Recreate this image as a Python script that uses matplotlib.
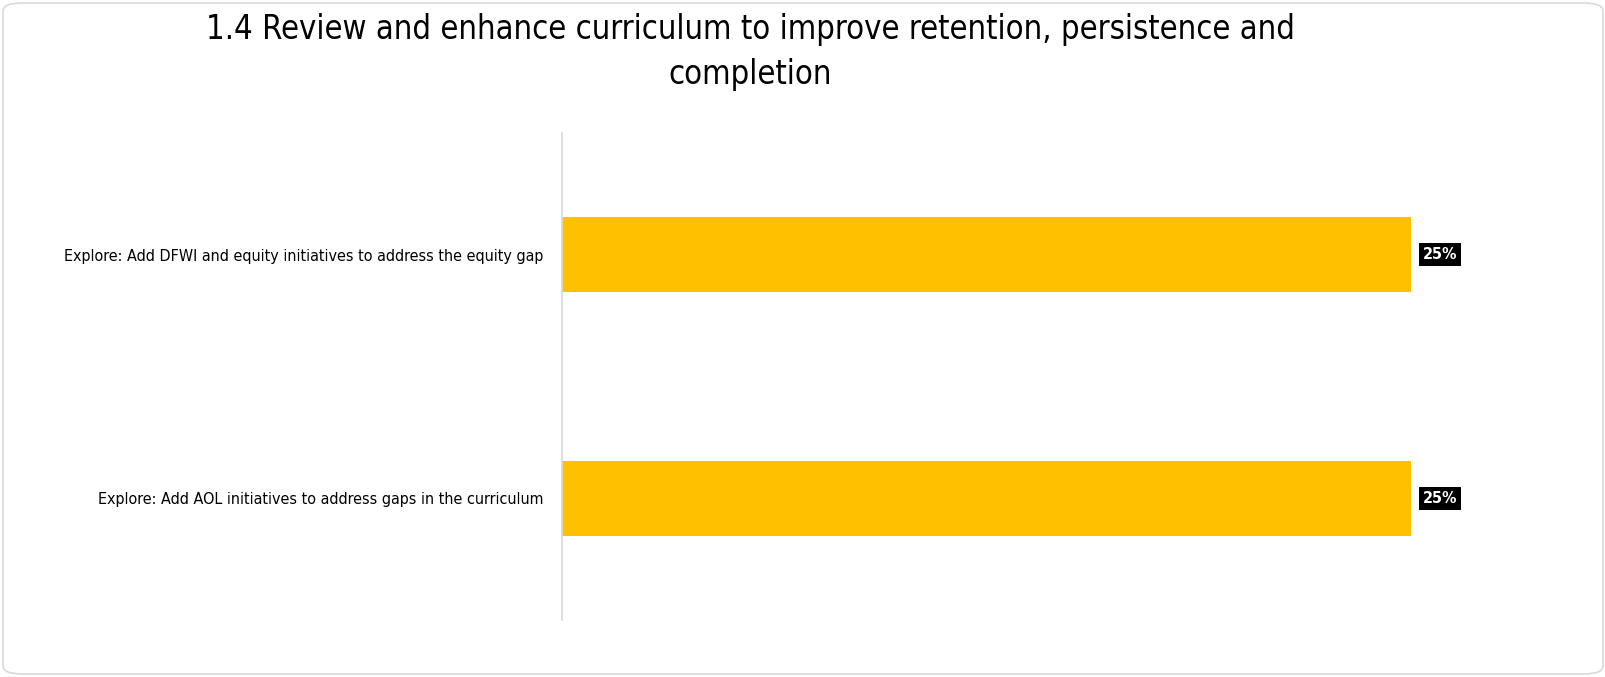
import matplotlib.pyplot as plt
from matplotlib.patches import FancyBboxPatch

# donnees
categories = ["Explore: Add AOL initiatives to address gaps in the curriculum",
              "Explore: Add DFWI and equity initiatives to address the equity gap"]
valeurs = [0.25, 0.25]
titre = "1.4 Review and enhance curriculum to improve retention, persistence and\ncompletion"

W, H = 1606, 677
fig = plt.figure(figsize=(W / 100, H / 100), dpi=100)

# cadre arrondi
cadre = FancyBboxPatch((3 / W, 3 / H), 1 - 6 / W, 1 - 6 / H,
                       boxstyle="round,pad=0,rounding_size=0.012",
                       transform=fig.transFigure, facecolor="none",
                       edgecolor="#d9d9d9", linewidth=1.2, zorder=-1)
fig.patches.append(cadre)

ax = fig.add_axes([562 / W, 1 - 620 / H, (1540 - 562) / W, (620 - 133) / H])
ax.set_facecolor("none")

y = range(len(categories))
ax.barh(y, valeurs, height=0.31, color="#ffc000")
ax.set_xlim(0, 0.288)
ax.set_ylim(-0.5, 1.5)

for i, v in enumerate(valeurs):
    ax.text(v + 0.0035, i, f"{v:.0%}", va="center", ha="left",
            color="white", fontsize=11.5, fontweight="bold",
            family="DejaVu Sans", stretch="condensed",
            bbox=dict(facecolor="black", edgecolor="none", pad=3))

ax.set_yticks(list(y))
ax.set_yticklabels(categories, fontsize=11.5, family="DejaVu Sans", stretch="condensed")
ax.tick_params(axis="y", length=0, pad=13.5)
ax.set_xticks([])
for cote in ["top", "right", "bottom"]:
    ax.spines[cote].set_visible(False)
ax.spines["left"].set_color("#d9d9d9")
ax.spines["left"].set_linewidth(1.2)

fig.text(750 / W, 1 - 13 / H, titre, ha="center", va="top", fontsize=23.5,
         family="DejaVu Sans", stretch="condensed", linespacing=1.48)

fig.savefig("out.png", dpi=100)
